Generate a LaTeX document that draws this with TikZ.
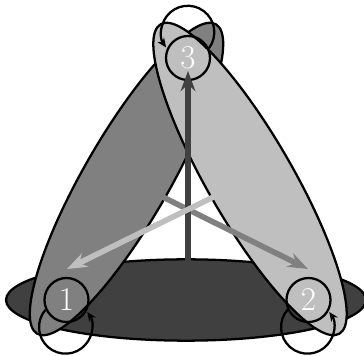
\documentclass[tikz,border=0pt]{standalone}
\usetikzlibrary{shapes.geometric, arrows.meta}

\begin{document}
\begin{tikzpicture}[
  x=0.75pt, y=0.75pt,
  plate/.style={ellipse, draw=black, line width=1.7pt, inner sep=0pt, minimum width=270pt, minimum height=61pt},
  leaf/.style={plate, minimum width=268pt, minimum height=64pt},
  vertex/.style={circle, draw=black, line width=1.7pt, inner sep=0pt, minimum size=33pt, text=white, font=\Huge},
  bigarrow/.style={-{Stealth[length=15pt, width=11pt]}, line width=4.2pt},
  selfloop/.style={-{Stealth[length=7pt, width=6pt]}, line width=1.7pt},
]
  \useasboundingbox (0,0) rectangle (364,356);

  % Ellipses
  \node[plate, fill=black!75] (E0) at (186,56) {};
  \node[leaf, fill=black!50, rotate=60] (E1) at (126.5,177) {};
  \node[leaf, fill=black!25, rotate=-60] (E2) at (250,177) {};

  % Sommets
  \node[vertex] (V1) at (66.5,56) {1};
  \node[vertex] (V2) at (308.5,56) {2};
  \node[vertex] (V3) at (188,298) {3};

  % Pointes
  \coordinate (T1) at (67,87);
  \coordinate (T2) at (308,87);
  \coordinate (T3) at (188,285);

  % Fleches
  \draw[bigarrow, black!50] (E1.center) -- (T2);
  \draw[bigarrow, black!75] (T3 |- E0.center) -- (T3);
  \draw[bigarrow, black!25] (E2.center) -- (T1);

  % Boucles
  \draw[selfloop] (V1.205) arc[start angle=139, end angle=395, radius=26.5];
  \draw[selfloop] (V2.205) arc[start angle=139, end angle=395, radius=26.5];
  \draw[selfloop] (V3.25) arc[start angle=-37, end angle=215, radius=26.5];
\end{tikzpicture}
\end{document}
